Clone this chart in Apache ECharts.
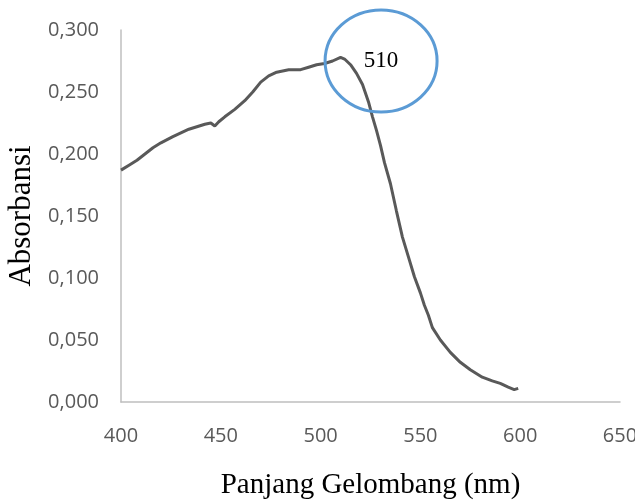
<!DOCTYPE html>
<html><head><meta charset="utf-8">
<script src="https://cdn.jsdelivr.net/npm/echarts@6/dist/echarts.min.js"></script>
<style>html,body{margin:0;padding:0;background:#fff}#c{width:635px;height:501px}</style>
</head><body><div id="c"></div>
<script>
const wavelengths = [400,404,408,412,416,420,426,430,434,438,442,445,447,449,452,457,462,466,470,474,478,484,490,494,498,502,506,510,512,515,518,521,524,526,528,530,532,535,538,541,544,547,550,551,552,554,556,560,565,570,575,581,586,590,594,597,599];
const absorbance = [0.187,0.191,0.195,0.200,0.205,0.209,0.214,0.217,0.220,0.222,0.224,0.225,0.2226,0.226,0.230,0.236,0.243,0.250,0.258,0.263,0.266,0.268,0.268,0.270,0.272,0.273,0.275,0.278,0.2766,0.272,0.265,0.256,0.242,0.230,0.219,0.207,0.193,0.176,0.154,0.133,0.117,0.101,0.088,0.087,0.078,0.070,0.060,0.050,0.040,0.032,0.026,0.020,0.017,0.015,0.012,0.010,0.011];
const peakLabel = "510";
const peakCenter = [530.3, 0.275];

const chart = echarts.init(document.getElementById('c'), null, {renderer:'canvas'});
const tickFont = {color:'#595959', fontSize:20, fontFamily:'Open Sans'};
chart.setOption({
  animation:false,
  backgroundColor:'#fff',
  grid:{left:121, right:15, top:30, bottom:99, containLabel:false, outerBoundsMode:'none'},
  xAxis:{type:'value', min:400, max:650, interval:50,
    axisLine:{show:true, lineStyle:{color:'#bfbfbf', width:1.5}},
    axisTick:{show:false}, splitLine:{show:false},
    axisLabel:Object.assign({margin:24}, tickFont),
    name:'Panjang Gelombang (nm)', nameLocation:'middle', nameGap:69,
    nameTextStyle:{fontFamily:'Liberation Serif', fontSize:29, color:'#000'}
  },
  yAxis:{type:'value', min:0, max:0.3, interval:0.05,
    axisLine:{show:true, lineStyle:{color:'#bfbfbf', width:1.5}},
    axisTick:{show:false}, splitLine:{show:false},
    axisLabel:Object.assign({margin:22, formatter:v=>v.toFixed(3).replace('.',',')}, tickFont),
    name:'Absorbansi', nameLocation:'middle', nameGap:81,
    nameTextStyle:{fontFamily:'Liberation Serif', fontSize:31, color:'#000'}
  },
  series:[{type:'line', data:wavelengths.map((w,i)=>[w,absorbance[i]]), showSymbol:false,
    lineStyle:{color:'#595959', width:3}, smooth:false}]
});
const c = chart.convertToPixel({gridIndex:0}, peakCenter);
chart.setOption({graphic:[
  {type:'ellipse', shape:{cx:c[0], cy:c[1], rx:56, ry:51}, style:{fill:null, stroke:'#5b9bd5', lineWidth:3}, z:10},
  {type:'text', x:c[0], y:c[1], style:{text:peakLabel, x:0, y:0, align:'center', verticalAlign:'middle', font:'23px "Liberation Serif"', fill:'#000'}, z:11}
]});
</script></body></html>
